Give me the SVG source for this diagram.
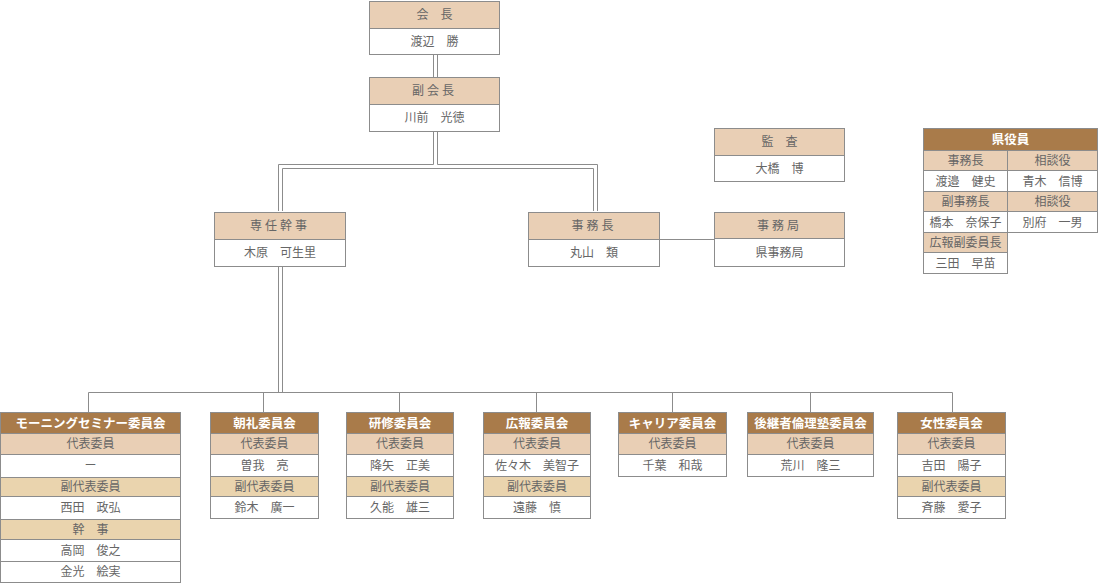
<svg xmlns="http://www.w3.org/2000/svg" width="1099" height="584" viewBox="0 0 1099 584">
<style>
.b{stroke:#8c8c8c;stroke-width:1}
.hd{fill:#e9cfb5}
.wh{fill:#ffffff}
.ch{fill:#a97b4a}
.r1{fill:#e9cfb5}
.r2{fill:#ead4ae}
.t{font-family:"Noto Sans CJK JP","Noto Sans CJK SC",sans-serif;font-size:12px;fill:#666;text-anchor:middle}
.tw{font-family:"Noto Sans CJK JP","Noto Sans CJK SC",sans-serif;font-size:12.5px;font-weight:bold;fill:#fff;text-anchor:middle}
.ln{stroke:#8c8c8c;stroke-width:1;fill:none}
</style>
<rect width="1099" height="584" fill="#fff"/>
<g id="connectors">
<path class="ln" d="M433.5,55 V77 M437.5,55 V77"/>
<path class="ln" d="M433.5,132 V164.5 H278.5 V211"/>
<path class="ln" d="M282.5,211 V168.5 H593.5 V211"/>
<path class="ln" d="M437.5,132 V164.5 H597.5 V211"/>
<path class="ln" d="M660,239.5 H714"/>
<path class="ln" d="M278.5,267 V392 M282.5,267 V392"/>
<path class="ln" d="M88.5,412 V392.5 H952.5 V412 M263.5,392 V412 M399.5,392 V412 M536.5,392 V412 M672.5,392 V412 M810.5,392 V412"/>
</g>
<g id="kaicho">
<rect class="b hd" x="369.5" y="1.5" width="130" height="27"/>
<rect class="b wh" x="369.5" y="28.5" width="130" height="26"/>
<text class="t" x="434.5" y="19">会　長</text>
<text class="t" x="434.5" y="46">渡辺　勝</text>
</g>
<g id="fukukaicho">
<rect class="b hd" x="369.5" y="77.5" width="130" height="27"/>
<rect class="b wh" x="369.5" y="104.5" width="130" height="27"/>
<text class="t" x="434.5" y="95" letter-spacing="3">副会長</text>
<text class="t" x="434.5" y="122">川前　光徳</text>
</g>
<g id="senninkanji">
<rect class="b hd" x="214.5" y="212.5" width="131" height="27"/>
<rect class="b wh" x="214.5" y="239.5" width="131" height="27"/>
<text class="t" x="280" y="230" letter-spacing="3">専任幹事</text>
<text class="t" x="280" y="257">木原　可生里</text>
</g>
<g id="jimucho">
<rect class="b hd" x="528.5" y="212.5" width="131" height="27"/>
<rect class="b wh" x="528.5" y="239.5" width="131" height="27"/>
<text class="t" x="594" y="230" letter-spacing="3">事務長</text>
<text class="t" x="594" y="257">丸山　類</text>
</g>
<g id="kansa">
<rect class="b hd" x="714.5" y="128.5" width="130" height="27"/>
<rect class="b wh" x="714.5" y="155.5" width="130" height="26"/>
<text class="t" x="779.5" y="146">監　査</text>
<text class="t" x="779.5" y="173">大橋　博</text>
</g>
<g id="jimukyoku">
<rect class="b hd" x="714.5" y="212.5" width="130" height="26"/>
<rect class="b wh" x="714.5" y="238.5" width="130" height="28"/>
<text class="t" x="779.5" y="230" letter-spacing="3">事務局</text>
<text class="t" x="779.5" y="257">県事務局</text>
</g>
<g id="kenyakuin">
<rect class="b ch" x="923.5" y="128.5" width="174" height="22"/>
<text class="tw" x="1010.5" y="144">県役員</text>
<rect class="b r1" x="923.5" y="150.5" width="84" height="20"/>
<rect class="b r1" x="1007.5" y="150.5" width="90" height="20"/>
<rect class="b wh" x="923.5" y="170.5" width="84" height="21"/>
<rect class="b wh" x="1007.5" y="170.5" width="90" height="21"/>
<rect class="b r1" x="923.5" y="191.5" width="84" height="20"/>
<rect class="b r1" x="1007.5" y="191.5" width="90" height="20"/>
<rect class="b wh" x="923.5" y="211.5" width="84" height="21"/>
<rect class="b wh" x="1007.5" y="211.5" width="90" height="21"/>
<rect class="b r1" x="923.5" y="232.5" width="84" height="20"/>
<rect class="b wh" x="923.5" y="252.5" width="84" height="21"/>
<text class="t" x="965.5" y="165">事務長</text>
<text class="t" x="1052.5" y="165">相談役</text>
<text class="t" x="965.5" y="186">渡邉　健史</text>
<text class="t" x="1052.5" y="186">青木　信博</text>
<text class="t" x="965.5" y="206">副事務長</text>
<text class="t" x="1052.5" y="206">相談役</text>
<text class="t" x="965.5" y="227">橋本　奈保子</text>
<text class="t" x="1052.5" y="227">別府　一男</text>
<text class="t" x="965.5" y="247">広報副委員長</text>
<text class="t" x="965.5" y="268">三田　早苗</text>
</g>
<g id="morning">
<rect class="b ch" x="0.5" y="412.5" width="180" height="21"/>
<rect class="b r1" x="0.5" y="433.5" width="180" height="21"/>
<rect class="b wh" x="0.5" y="454.5" width="180" height="23"/>
<rect class="b r2" x="0.5" y="477.5" width="180" height="19"/>
<rect class="b wh" x="0.5" y="496.5" width="180" height="23"/>
<rect class="b r2" x="0.5" y="519.5" width="180" height="20"/>
<rect class="b wh" x="0.5" y="539.5" width="180" height="22"/>
<rect class="b wh" x="0.5" y="561.5" width="180" height="21"/>
<text class="tw" x="90.5" y="427.5">モーニングセミナー委員会</text>
<text class="t" x="90.5" y="448">代表委員</text>
<text class="t" x="90.5" y="470">ー</text>
<text class="t" x="90.5" y="491">副代表委員</text>
<text class="t" x="90.5" y="512">西田　政弘</text>
<text class="t" x="90.5" y="534">幹　事</text>
<text class="t" x="90.5" y="555">高岡　俊之</text>
<text class="t" x="90.5" y="576">金光　絵実</text>
</g>
<g id="chorei">
<rect class="b ch" x="210.5" y="412.5" width="108" height="21"/>
<rect class="b r1" x="210.5" y="433.5" width="108" height="21"/>
<rect class="b wh" x="210.5" y="454.5" width="108" height="22"/>
<rect class="b r2" x="210.5" y="476.5" width="108" height="20"/>
<rect class="b wh" x="210.5" y="496.5" width="108" height="22"/>
<text class="tw" x="264.5" y="427.5">朝礼委員会</text>
<text class="t" x="264.5" y="448">代表委員</text>
<text class="t" x="264.5" y="470">曽我　亮</text>
<text class="t" x="264.5" y="491">副代表委員</text>
<text class="t" x="264.5" y="512">鈴木　廣一</text>
</g>
<g id="kenshu">
<rect class="b ch" x="346.5" y="412.5" width="107" height="21"/>
<rect class="b r1" x="346.5" y="433.5" width="107" height="21"/>
<rect class="b wh" x="346.5" y="454.5" width="107" height="22"/>
<rect class="b r2" x="346.5" y="476.5" width="107" height="20"/>
<rect class="b wh" x="346.5" y="496.5" width="107" height="22"/>
<text class="tw" x="400" y="427.5">研修委員会</text>
<text class="t" x="400" y="448">代表委員</text>
<text class="t" x="400" y="470">降矢　正美</text>
<text class="t" x="400" y="491">副代表委員</text>
<text class="t" x="400" y="512">久能　雄三</text>
</g>
<g id="koho">
<rect class="b ch" x="483.5" y="412.5" width="107" height="21"/>
<rect class="b r1" x="483.5" y="433.5" width="107" height="21"/>
<rect class="b wh" x="483.5" y="454.5" width="107" height="22"/>
<rect class="b r2" x="483.5" y="476.5" width="107" height="20"/>
<rect class="b wh" x="483.5" y="496.5" width="107" height="22"/>
<text class="tw" x="537" y="427.5">広報委員会</text>
<text class="t" x="537" y="448">代表委員</text>
<text class="t" x="537" y="470">佐々木　美智子</text>
<text class="t" x="537" y="491">副代表委員</text>
<text class="t" x="537" y="512">遠藤　慎</text>
</g>
<g id="career">
<rect class="b ch" x="618.5" y="412.5" width="108" height="21"/>
<rect class="b r1" x="618.5" y="433.5" width="108" height="21"/>
<rect class="b wh" x="618.5" y="454.5" width="108" height="22"/>
<text class="tw" x="672.5" y="427.5">キャリア委員会</text>
<text class="t" x="672.5" y="448">代表委員</text>
<text class="t" x="672.5" y="470">千葉　和哉</text>
</g>
<g id="koukeisha">
<rect class="b ch" x="747.5" y="412.5" width="126" height="21"/>
<rect class="b r1" x="747.5" y="433.5" width="126" height="21"/>
<rect class="b wh" x="747.5" y="454.5" width="126" height="22"/>
<text class="tw" x="810.5" y="427.5">後継者倫理塾委員会</text>
<text class="t" x="810.5" y="448">代表委員</text>
<text class="t" x="810.5" y="470">荒川　隆三</text>
</g>
<g id="josei">
<rect class="b ch" x="897.5" y="412.5" width="108" height="21"/>
<rect class="b r1" x="897.5" y="433.5" width="108" height="21"/>
<rect class="b wh" x="897.5" y="454.5" width="108" height="22"/>
<rect class="b r2" x="897.5" y="476.5" width="108" height="20"/>
<rect class="b wh" x="897.5" y="496.5" width="108" height="22"/>
<text class="tw" x="951.5" y="427.5">女性委員会</text>
<text class="t" x="951.5" y="448">代表委員</text>
<text class="t" x="951.5" y="470">吉田　陽子</text>
<text class="t" x="951.5" y="491">副代表委員</text>
<text class="t" x="951.5" y="512">斉藤　愛子</text>
</g>
</svg>
